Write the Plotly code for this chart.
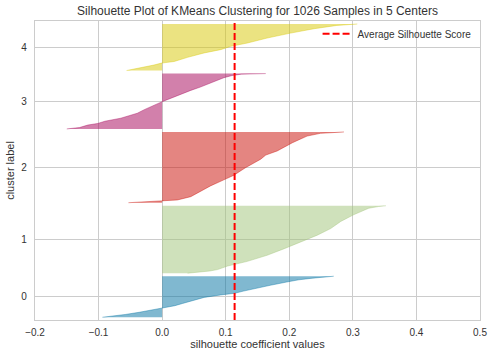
import plotly.graph_objects as go

# ---------------- data ----------------
cluster_labels = ["0", "1", "2", "3", "4"]
cluster_sizes = [150, 246, 258, 202, 170]
gap = 10
avg_score = 0.114

# sorted silhouette profile of each cluster: rank within cluster -> value
c0_rank = [0, 4, 10, 18, 26, 34, 35, 42, 50, 60, 72, 81, 87, 95, 105, 116, 128, 136, 142, 146, 149]
c0_vals = [-0.094, -0.078, -0.058, -0.036, -0.016, -0.002, 0.006, 0.020, 0.032, 0.046, 0.066,
           0.092, 0.114, 0.128, 0.146, 0.170, 0.196, 0.215, 0.237, 0.252, 0.270]

c1_rank = [0, 3, 8, 13, 26, 43, 65, 89, 113, 138, 162, 188, 212, 228, 236, 242, 245]
c1_vals = [0.040, 0.056, 0.075, 0.087, 0.103, 0.134, 0.165, 0.192, 0.218, 0.244, 0.265,
           0.281, 0.301, 0.316, 0.325, 0.340, 0.352]

c2_rank = [0, 2, 5, 7, 8, 10, 22, 43, 61, 83, 100, 127, 158, 173, 188, 218, 242, 252, 257]
c2_vals = [-0.053, -0.035, -0.015, -0.003, 0.010, 0.024, 0.045, 0.061, 0.076, 0.097, 0.113,
           0.131, 0.155, 0.163, 0.181, 0.205, 0.228, 0.249, 0.286]

c3_rank = [0, 5, 14, 20, 28, 39, 48, 57, 70, 81, 92, 100, 108, 118, 128, 140, 152, 164, 176,
           186, 194, 199, 201]
c3_vals = [-0.150, -0.130, -0.117, -0.101, -0.090, -0.065, -0.052, -0.039, -0.028, -0.018,
           -0.007, 0.001, 0.010, 0.020, 0.032, 0.045, 0.060, 0.073, 0.086, 0.097, 0.110,
           0.125, 0.163]

c4_rank = [0, 6, 12, 20, 27, 28, 33, 48, 64, 76, 88, 100, 118, 136, 152, 164, 169]
c4_vals = [-0.056, -0.042, -0.028, -0.013, -0.001, 0.005, 0.019, 0.040, 0.066, 0.092, 0.108,
           0.134, 0.165, 0.202, 0.239, 0.275, 0.307]

x_ticks = [-0.2, -0.1, 0.0, 0.1, 0.2, 0.3, 0.4, 0.5]

ranks = [c0_rank, c1_rank, c2_rank, c3_rank, c4_rank]
values = [c0_vals, c1_vals, c2_vals, c3_vals, c4_vals]

colors = ["#0272a2", "#9fc377", "#ca0b03", "#a50258", "#d7c703"]


def rgba(hx, a):
    h = hx.lstrip("#")
    r, g, b = int(h[0:2], 16), int(h[2:4], 16), int(h[4:6], 16)
    return f"rgba({r},{g},{b},{a})"


fig = go.Figure()

y_lower = gap
label_pos = []
for i, lab in enumerate(cluster_labels):
    ys = [y_lower + r for r in ranks[i]]
    fig.add_trace(go.Scatter(
        x=values[i], y=ys, mode="lines", fill="tozerox",
        fillcolor=rgba(colors[i], 0.5),
        line=dict(color=rgba(colors[i], 0.5), width=0.8),
        showlegend=False, hoverinfo="skip",
    ))
    label_pos.append(y_lower + cluster_sizes[i] / 2)
    y_lower += cluster_sizes[i] + gap

y_max = y_lower

fig.add_trace(go.Scatter(
    x=[avg_score, avg_score], y=[0, y_max], mode="lines",
    line=dict(color="red", width=2, dash="7px,3px"),
    name="Average Silhouette Score", showlegend=True, hoverinfo="skip",
))

txt = "#333333"
fam = "Liberation Sans, Arial, sans-serif"
fig.update_layout(
    width=494, height=357,
    margin=dict(l=35, r=14, t=21, b=37, autoexpand=False),
    paper_bgcolor="white", plot_bgcolor="white",
    font=dict(family=fam, size=10, color=txt),
    title=dict(text="Silhouette Plot of KMeans Clustering for 1026 Samples in 5 Centers",
               x=0.5, xref="paper", xanchor="center",
               y=1 - 11 / 357, yref="container", yanchor="middle",
               pad=dict(t=0, b=0, l=0, r=0),
               font=dict(size=12, color=txt, family=fam)),
    legend=dict(x=0.635, y=0.957, xanchor="left", yanchor="middle",
                bgcolor="rgba(0,0,0,0)", font=dict(size=10, color=txt)),
    xaxis=dict(range=[-0.2, 0.5], tickvals=x_ticks, tickformat=".1f", automargin=False,
               showgrid=True, gridcolor="#cccccc", gridwidth=1,
               zeroline=False, showline=True, mirror=True, linecolor="#cccccc", linewidth=1.3,
               ticks="", tickfont=dict(size=10), ticklabelstandoff=3,
               title=dict(text="silhouette coefficient values", font=dict(size=11), standoff=1)),
    yaxis=dict(range=[0, y_max], tickvals=label_pos, ticktext=cluster_labels, automargin=False,
               showgrid=True, gridcolor="#cccccc", gridwidth=1,
               zeroline=False, showline=True, mirror=True, linecolor="#cccccc", linewidth=1.3,
               ticks="", tickfont=dict(size=10), ticklabelstandoff=5,
               title=dict(text="cluster label", font=dict(size=11), standoff=4)),
)

fig.write_html("out.html", config={"displayModeBar": False},
               post_script="document.body.style.margin='0';")
